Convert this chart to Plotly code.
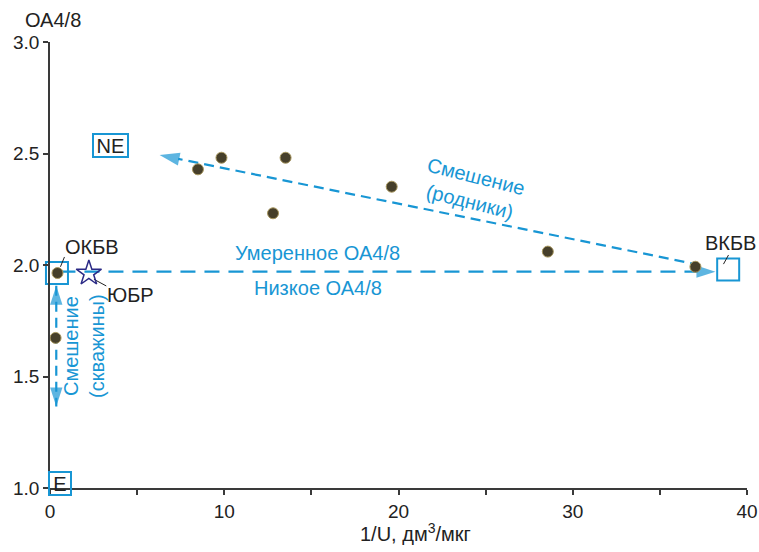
import plotly.graph_objects as go

# ---- data ----
pts_x = [0.43, 0.32, 8.49, 9.84, 13.52, 12.80, 19.61, 28.57, 37.04]
pts_y = [1.964, 1.673, 2.429, 2.481, 2.481, 2.232, 2.351, 2.060, 1.992]

star_x, star_y = [2.23], [1.963]

end_box_x = [0.40, 38.92]      # ОКБВ, ВКБВ squares
end_box_y = [1.964, 1.980]

horiz_x = [0.6, 38.19]
horiz_y = [1.97, 1.97]

springs_x = [37.3, 6.29]
springs_y = [2.000, 2.493]

wells_x = [0.36, 0.36]
wells_y = [1.907, 1.365]

x_ticks = [0, 5, 10, 15, 20, 25, 30, 35, 40]
x_ticktext = ["0", "", "10", "", "20", "", "30", "", "40"]
y_ticks = [1.0, 1.5, 2.0, 2.5, 3.0]

BLUE = "#1896d4"
FONT = "Liberation Sans"
AX = "#3a3a3a"
LS = 20   # label font size
TS = 19   # tick font size

fig = go.Figure()

# mixing line (springs) with arrow at left end
fig.add_trace(go.Scatter(
    x=springs_x, y=springs_y, mode="lines+markers",
    line=dict(color=BLUE, width=2.2, dash="10px,6px"),
    marker=dict(symbol=["circle", "arrow"], size=[0, 21], color=BLUE,
                angleref="previous", line=dict(width=0)),
    hoverinfo="skip", showlegend=False, cliponaxis=False))

# horizontal long-dash line with arrow at right end
fig.add_trace(go.Scatter(
    x=horiz_x, y=horiz_y, mode="lines+markers",
    line=dict(color=BLUE, width=2.2, dash="15px,9px"),
    marker=dict(symbol=["circle", "arrow"], size=[0, 20], color=BLUE,
                angleref="previous", line=dict(width=0)),
    hoverinfo="skip", showlegend=False, cliponaxis=False))

# vertical double arrow (wells)
fig.add_trace(go.Scatter(
    x=wells_x, y=wells_y, mode="lines+markers",
    line=dict(color=BLUE, width=2.2, dash="10px,6px"),
    marker=dict(symbol=["circle", "arrow"], size=[0, 20], color=BLUE,
                angleref="previous", line=dict(width=0)),
    hoverinfo="skip", showlegend=False, cliponaxis=False))
fig.add_trace(go.Scatter(
    x=wells_x[::-1], y=wells_y[::-1], mode="markers",
    marker=dict(symbol=["circle", "arrow"], size=[0, 20], color=BLUE,
                angleref="previous", line=dict(width=0)),
    hoverinfo="skip", showlegend=False, cliponaxis=False))

# end-member squares
fig.add_trace(go.Scatter(
    x=end_box_x, y=end_box_y, mode="markers",
    marker=dict(symbol="square-open", size=22, color=BLUE, line=dict(width=2, color=BLUE)),
    hoverinfo="skip", showlegend=False, cliponaxis=False))

# leader lines
leaders = [([0.60, 0.83], [1.992, 2.036]),
           ([2.52, 3.23], [1.936, 1.906]),
           ([38.65, 38.94], [2.004, 2.045])]
for lx, ly in leaders:
    fig.add_trace(go.Scatter(x=lx, y=ly, mode="lines", line=dict(color="#222", width=1),
                             hoverinfo="skip", showlegend=False, cliponaxis=False))

# data points
fig.add_trace(go.Scatter(
    x=pts_x, y=pts_y, mode="markers",
    marker=dict(symbol="circle", size=11, color="#463f2a", line=dict(width=1, color="#a8975f")),
    showlegend=False, cliponaxis=False))

# star (ЮБР)
fig.add_trace(go.Scatter(
    x=star_x, y=star_y, mode="markers",
    marker=dict(symbol="star-open", size=19, color="#2b2a86", line=dict(width=1.5, color="#2b2a86")),
    showlegend=False, cliponaxis=False))

ann = []
def label(x, y, text, color="#222", size=LS, **kw):
    ann.append(dict(x=x, y=y, xref="x", yref="y", text=text, showarrow=False,
                    font=dict(family=FONT, size=size, color=color), **kw))

label(0.72, 2.081, "ОКБВ", xanchor="left")
label(3.13, 1.865, "ЮБР", xanchor="left")
label(39.08, 2.099, "ВКБВ")
label(15.34, 2.052, "Умеренное ОА4/8", color=BLUE)
label(15.40, 1.896, "Низкое ОА4/8", color=BLUE)
label(24.25, 2.341, "Смешение<br>(родники)", color=BLUE, textangle=14)
label(1.95, 1.637, "Смешение<br>(скважины)", color=BLUE, textangle=-90)
label(3.48, 2.536, "NE", bordercolor=BLUE, borderwidth=2, borderpad=0, width=33, height=21)
label(0.57, 1.018, "E", bordercolor=BLUE, borderwidth=2, borderpad=0, width=20, height=21)

ann.append(dict(x=0.005, y=1.049, xref="paper", yref="paper", text="ОА4/8", showarrow=False,
                xanchor="center", yanchor="middle",
                font=dict(family=FONT, size=LS, color="#222")))
ann.append(dict(x=0.525, y=-0.099, xref="paper", yref="paper", text="1/U, дм<sup>3</sup>/мкг",
                showarrow=False, xanchor="center", yanchor="middle",
                font=dict(family=FONT, size=LS, color="#222")))

fig.update_layout(
    width=759, height=552,
    margin=dict(l=50, r=12, t=42, b=64),
    paper_bgcolor="white", plot_bgcolor="white",
    annotations=ann,
    font=dict(family=FONT, size=TS, color="#222"),
    xaxis=dict(range=[0, 40], tickvals=x_ticks, ticktext=x_ticktext, ticks="outside",
               ticklen=5, tickwidth=1.5, tickcolor=AX, showline=True, linecolor=AX, linewidth=1.5,
               showgrid=False, zeroline=False, tickfont=dict(size=TS), automargin=False),
    yaxis=dict(range=[1, 3], tickvals=y_ticks, tickformat=".1f", ticks="outside",
               ticklen=5, tickwidth=1.5, tickcolor=AX, showline=True, linecolor=AX, linewidth=1.5,
               showgrid=False, zeroline=False, tickfont=dict(size=TS), automargin=False),
)

fig.write_html("out.html")
